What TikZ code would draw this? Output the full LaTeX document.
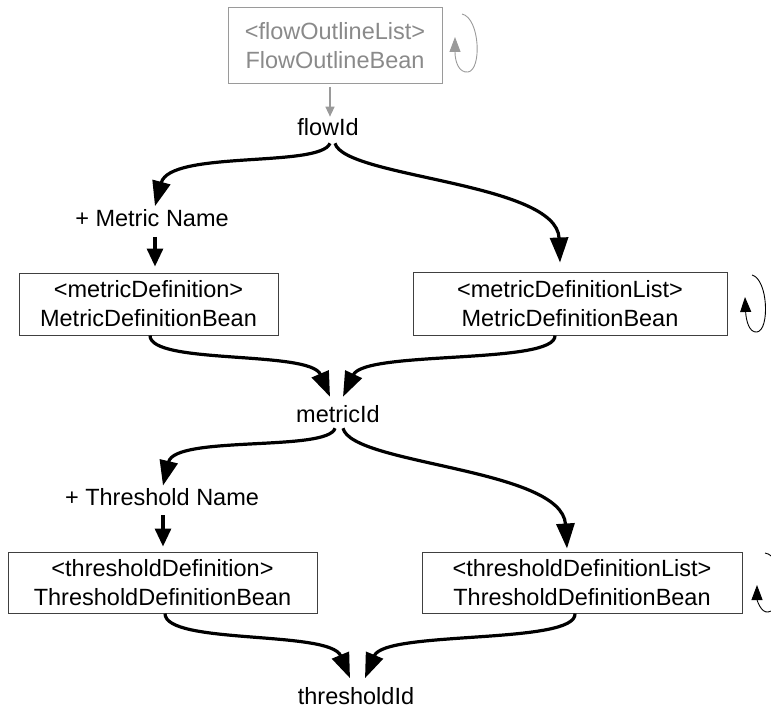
\documentclass[tikz,border=0pt]{standalone}
\usepackage{fontspec}
\setmainfont{Liberation Sans}
\usetikzlibrary{arrows.meta,calc}
\definecolor{boxgray}{HTML}{9A9A9A}
\definecolor{txtgray}{HTML}{8A8A8A}
\begin{document}
\begin{tikzpicture}[x=1pt,y=-1pt,
  lbl/.style={font=\fontsize{23.5}{29}\selectfont, inner sep=0pt, align=center},
  bean/.style={lbl, draw=black!75, line width=1pt},
  graybean/.style={lbl, draw=boxgray, text=txtgray, line width=1pt},
  flowarrow/.style={line width=3.2pt, -{Triangle[length=25pt,width=18pt]}},
  downarrow/.style={line width=3.2pt, -{Triangle[length=18pt,width=16pt]}},
  loopline/.style={line width=0.9pt, -{Triangle[length=15pt,width=11pt]}},
  grayarrow/.style={line width=1.3pt, draw=boxgray, -{Triangle[length=10pt,width=9pt]}, color=boxgray},
]
\useasboundingbox (0,0) rectangle (771,709);

% nodes
\node[graybean, minimum width=214pt, minimum height=75pt] (flow) at (335,45.5) {<flowOutlineList>\\FlowOutlineBean};
\node[lbl] (flowId) at (328,127) {flowId};
\node[lbl] (metricName) at (152,218) {+ Metric Name};
\node[bean, minimum width=259pt, minimum height=62pt] (md) at (148.5,304) {<metricDefinition>\\MetricDefinitionBean};
\node[bean, minimum width=314pt, minimum height=63pt] (mdl) at (570,303.5) {<metricDefinitionList>\\MetricDefinitionBean};
\node[lbl] (metricId) at (338,414) {metricId};
\node[lbl] (thresholdName) at (162,497) {+ Threshold Name};
\node[bean, minimum width=309pt, minimum height=61pt] (td) at (162.5,582.5) {<thresholdDefinition>\\ThresholdDefinitionBean};
\node[bean, minimum width=320pt, minimum height=61pt] (tdl) at (582,582.5) {<thresholdDefinitionList>\\ThresholdDefinitionBean};
\node[lbl] (thresholdId) at (356,696) {thresholdId};

% top gray arrow
\draw[grayarrow] ($(flow.south)+(-5,3)$) -- ($(flowId.north)+(2,-1.5)$);

% flowId branches
\draw[flowarrow] ($(flowId.south)+(2,7.5)$) .. controls (320,168) and (170,150) .. ($(metricName.north)+(3,-3)$);
\draw[flowarrow] ($(flowId.south)+(7,7.5)$) .. controls (345,178) and (557,182) .. ($(mdl.north)+(-10,-9)$);
\draw[downarrow] ($(metricName.south)+(3,10)$) -- ($(md.north)+(6.5,-6)$);

% into metricId
\draw[flowarrow] ($(md.south)+(1.5,0)$) .. controls (150,365) and (310,350) .. ($(metricId.north)+(-8,-8.4)$);
\draw[flowarrow] ($(mdl.south)+(-15,0)$) .. controls (556,365) and (365,350) .. ($(metricId.north)+(5,-8.4)$);

% metricId branches
\draw[flowarrow] ($(metricId.south)+(-3,5.4)$) .. controls (328,452) and (175,435) .. ($(thresholdName.north)+(1,-2.6)$);
\draw[flowarrow] ($(metricId.south)+(5,5.4)$) .. controls (352,465) and (562,468) .. ($(tdl.north)+(-15,-3)$);
\draw[downarrow] ($(thresholdName.south)+(1,9.6)$) -- ($(td.north)+(0.5,-5)$);

% into thresholdId
\draw[flowarrow] ($(td.south)+(2.5,0)$) .. controls (165,645) and (330,630) .. ($(thresholdId.north)+(-6,-9)$);
\draw[flowarrow] ($(tdl.south)+(-7,0)$) .. controls (577,645) and (385,630) .. ($(thresholdId.north)+(9,-9)$);

% self loops
\draw[loopline, draw=boxgray, color=boxgray] (462,14) .. controls (480,18) and (482,70) .. (468,72) .. controls (459,73) and (455,62) .. (455,37);
\draw[loopline] (752,275) .. controls (768,279) and (770,330) .. (757,332) .. controls (749,333) and (746,320) .. (745,297);
\begin{scope}
\clip (0,0) rectangle (771,709);
\draw[loopline] (765,553) .. controls (785,556) and (786,610) .. (768,612) .. controls (761,613) and (757,600) .. (757,585);
\end{scope}
\end{tikzpicture}
\end{document}
